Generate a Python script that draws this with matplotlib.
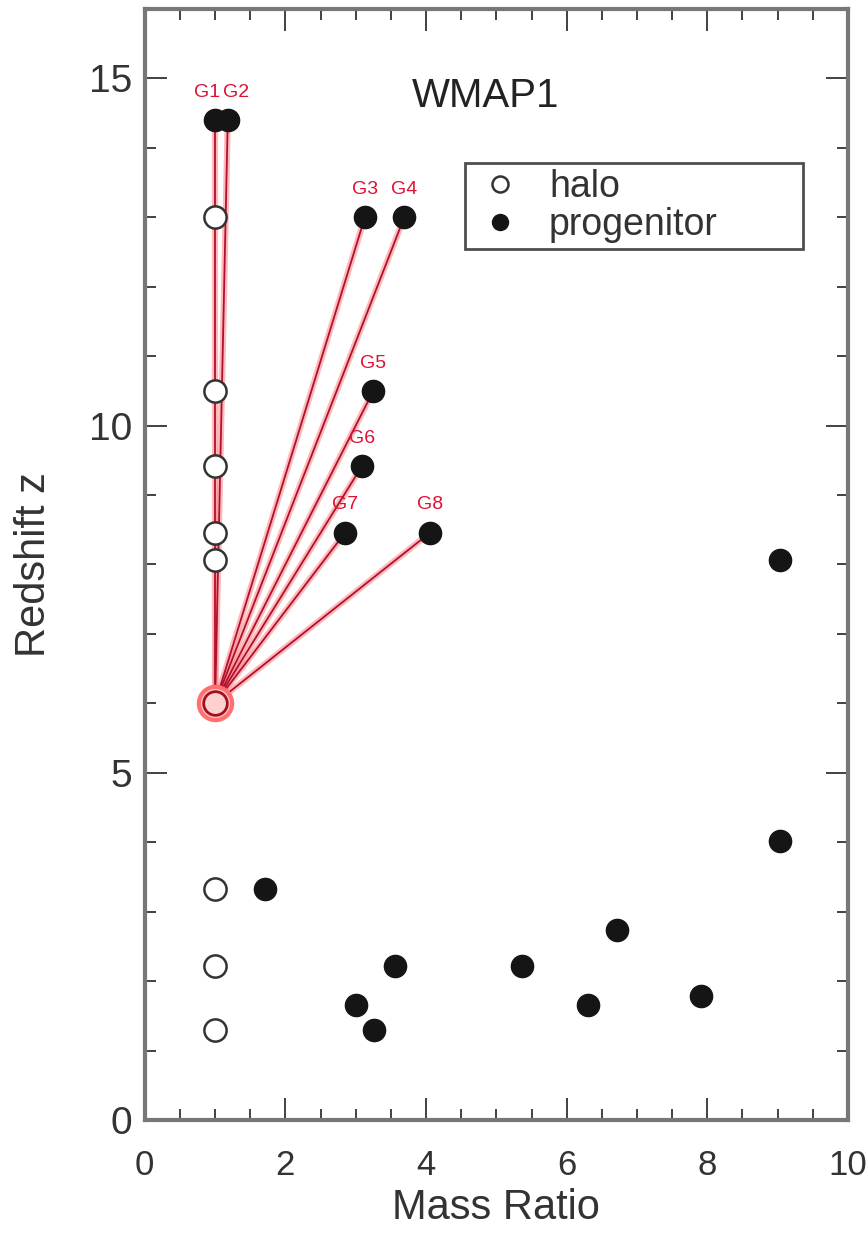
import matplotlib
matplotlib.use('Agg')
import matplotlib.pyplot as plt
from matplotlib.ticker import MultipleLocator

plt.rcParams['font.family'] = ['Liberation Sans', 'DejaVu Sans']

# host halo positions (open circles)
halo_x = [1.0, 1.0, 1.0, 1.0, 1.0, 1.0, 1.0, 1.0]
halo_z = [13.0, 10.5, 9.42, 8.46, 8.07, 3.33, 2.22, 1.30]

# progenitors linked to the z=6 halo
gal_names = ['G1', 'G2', 'G3', 'G4', 'G5', 'G6', 'G7', 'G8']
gal_x = [1.0, 1.18, 3.13, 3.69, 3.25, 3.09, 2.85, 4.06]
gal_z = [14.4, 14.4, 13.0, 13.0, 10.5, 9.42, 8.46, 8.46]

# other progenitors
prog_x = [1.71, 9.03, 9.03, 6.71, 5.37, 3.56, 3.0, 3.26, 6.30, 7.91]
prog_z = [3.33, 8.07, 4.02, 2.74, 2.22, 2.22, 1.66, 1.30, 1.66, 1.79]

# z=6 target halo
target_x, target_z = 1.0, 6.0

fig = plt.figure(figsize=(8.67, 12.33), dpi=100)
ax = fig.add_axes([0.167, 0.0917, 0.811, 0.901])

# connecting lines
for gx, gz in zip(gal_x, gal_z):
    ax.plot([target_x, gx], [target_z, gz], color='#ff8080', lw=4.5, alpha=0.55, zorder=2,
            solid_capstyle='round')
    ax.plot([target_x, gx], [target_z, gz], color='#b01030', lw=1.3, zorder=3)

ax.plot(target_x, target_z, 'o', ms=24, mfc='#ffc0c0', mec='#ff7070', mew=3, zorder=4)
ax.plot(target_x, target_z, 'o', ms=17, mfc='#ffd0d0', mec='#a01020', mew=2, zorder=5)

ax.plot(halo_x, halo_z, 'o', ms=16, mfc='white', mec='#333333', mew=1.8, ls='none',
        zorder=6, label='halo')
ax.plot(prog_x + gal_x, prog_z + gal_z, 'o', ms=16, mfc='#151515', mec='#151515',
        ls='none', zorder=7, label='progenitor')

for name, gx, gz in zip(gal_names, gal_x, gal_z):
    dx = -0.12 if name == 'G1' else (0.12 if name == 'G2' else 0.0)
    ax.text(gx + dx, gz + 0.4, name, color='#dd1133', fontsize=14, ha='center',
            va='center', zorder=8)

ax.text(4.85, 14.75, 'WMAP1', fontsize=29, ha='center', va='center', color='#222222')

ax.set_xlim(0, 10)
ax.set_ylim(0, 16)
ax.xaxis.set_major_locator(MultipleLocator(2))
ax.xaxis.set_minor_locator(MultipleLocator(0.5))
ax.yaxis.set_major_locator(MultipleLocator(5))
ax.yaxis.set_minor_locator(MultipleLocator(1))
ax.tick_params(which='both', direction='in', top=True, right=True, color='#333333',
               labelsize=28, labelcolor='#333333')
ax.tick_params(which='major', length=16, width=1.3)
ax.tick_params(which='minor', length=8, width=1.3)
ax.tick_params(axis='x', which='major', pad=21, labelsize=25)
ax.tick_params(axis='y', which='major', pad=9)
for sp in ax.spines.values():
    sp.set_color('#777777')
    sp.set_linewidth(3)

ax.set_xlabel('Mass Ratio', fontsize=30, color='#333333', labelpad=4)
ax.set_ylabel('Redshift z', fontsize=30, color='#333333', va='center')
ax.yaxis.set_label_coords(-0.158, 0.4995)

leg = ax.legend(loc='upper left', bbox_to_anchor=(0.455, 0.783, 0.481, 0.078),
                mode='expand', fontsize=27, frameon=True, fancybox=False,
                handletextpad=0.5, borderpad=0.15, handlelength=1.6,
                labelspacing=0.05, markerscale=0.72, borderaxespad=0)
leg.get_frame().set_edgecolor('#222222')
leg.get_frame().set_linewidth(2)
for t in leg.get_texts():
    t.set_color('#333333')

fig.savefig('out.png', dpi=100)
